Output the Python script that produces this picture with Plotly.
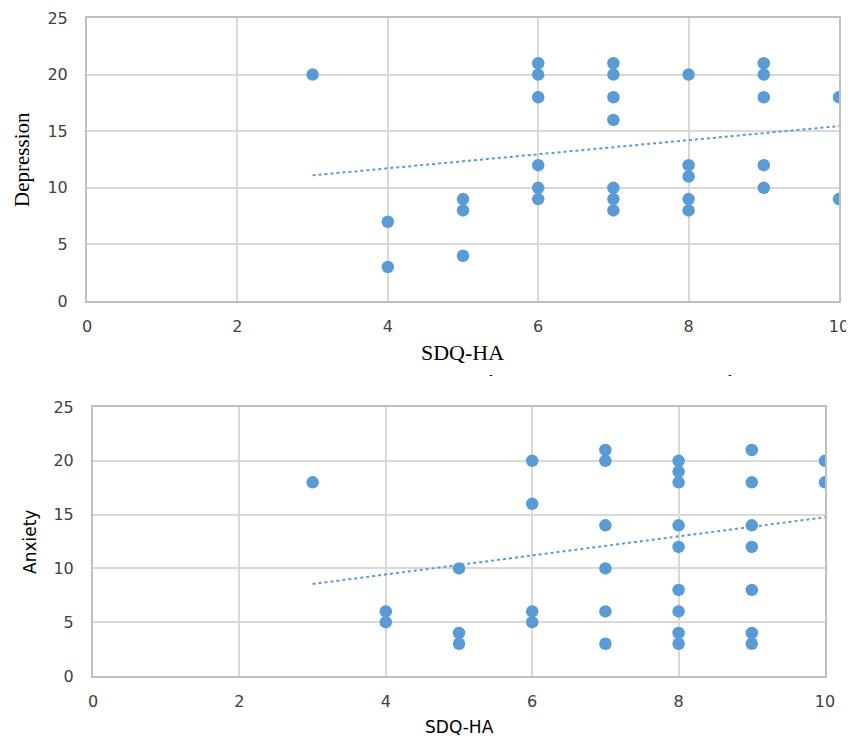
import plotly.graph_objects as go

# ---- data ----
dep_x = [3, 4, 4, 5, 5, 5, 6, 6, 6, 6, 6, 6, 7, 7, 7, 7, 7, 7, 7, 8, 8, 8, 8, 8, 9, 9, 9, 9, 9, 10, 10]
dep_y = [20, 7, 3, 9, 8, 4, 21, 20, 18, 12, 10, 9, 21, 20, 18, 16, 10, 9, 8, 20, 12, 11, 9, 8, 21, 20, 18, 12, 10, 18, 9]
dep_trend_x = [3, 10]
dep_trend_y = [11.1, 15.45]

anx_x = [3, 4, 4, 5, 5, 5, 6, 6, 6, 6, 7, 7, 7, 7, 7, 7,
         8, 8, 8, 8, 8, 8, 8, 8, 8, 9, 9, 9, 9, 9, 9, 9, 10, 10]
anx_y = [18, 6, 5, 10, 4, 3, 20, 16, 6, 5, 21, 20, 14, 10, 6, 3,
         20, 19, 18, 14, 12, 8, 6, 4, 3, 21, 18, 14, 12, 8, 4, 3, 20, 18]
anx_trend_x = [3, 10]
anx_trend_y = [8.55, 14.75]

x_ticks = [0, 2, 4, 6, 8, 10]
y_ticks = [0, 5, 10, 15, 20, 25]

MARK = "#5B9BD5"
GRID = "#D9D9D9"
TICKFONT = dict(family="DejaVu Sans", size=16, color="#404040")

fig = go.Figure()

fig.add_trace(go.Scatter(x=dep_x, y=dep_y, mode="markers", xaxis="x", yaxis="y",
                         marker=dict(color=MARK, size=12.5, line=dict(width=0)), showlegend=False))
fig.add_trace(go.Scatter(x=dep_trend_x, y=dep_trend_y, mode="lines", xaxis="x", yaxis="y",
                         line=dict(color=MARK, width=2, dash="dot"), showlegend=False))
fig.add_trace(go.Scatter(x=anx_x, y=anx_y, mode="markers", xaxis="x2", yaxis="y2",
                         marker=dict(color=MARK, size=12.5, line=dict(width=0)), showlegend=False))
fig.add_trace(go.Scatter(x=anx_trend_x, y=anx_trend_y, mode="lines", xaxis="x2", yaxis="y2",
                         line=dict(color=MARK, width=2, dash="dot"), showlegend=False))

W, H = 854, 742
OX, OY = 8, 8  # page body margin offset


def px(x):
    return (x - OX) / W


def py(y):
    return 1 - (y - OY) / H


def xdom(l, r):
    return [px(l), px(r)]


def ydom(t, b):
    return [py(b), py(t)]


common_x = dict(range=[0, 10], tickvals=x_ticks, showgrid=True, gridcolor=GRID, gridwidth=2,
                zeroline=False, showline=True, linecolor="#BFBFBF", linewidth=2, mirror=True,
                ticks="outside", ticklen=10, tickcolor="rgba(0,0,0,0)", tickfont=TICKFONT,
                automargin=False)
common_y = dict(range=[0, 25], tickvals=y_ticks, showgrid=True, gridcolor=GRID, gridwidth=2,
                zeroline=False, showline=True, linecolor="#BFBFBF", linewidth=2, mirror=True,
                ticks="outside", ticklen=14, tickcolor="rgba(0,0,0,0)", tickfont=TICKFONT,
                automargin=False)

fig.update_layout(
    width=W, height=H, autosize=False,
    margin=dict(l=0, r=0, t=0, b=0, pad=0, autoexpand=False),
    paper_bgcolor="white", plot_bgcolor="white",
    xaxis=dict(domain=xdom(87, 839), anchor="y", **common_x),
    yaxis=dict(domain=ydom(18, 301), anchor="x", **common_y),
    xaxis2=dict(domain=xdom(93, 825), anchor="y2", **common_x),
    yaxis2=dict(domain=ydom(407, 676), anchor="x2", **common_y),
)

annotations = [
    dict(text="SDQ-HA", x=px(462), y=py(353), xref="paper", yref="paper",
         showarrow=False, font=dict(family="Liberation Serif", size=22, color="#000000"),
         xanchor="center", yanchor="middle"),
    dict(text="Depression", x=px(22), y=py(160), xref="paper", yref="paper", textangle=-90,
         showarrow=False, font=dict(family="Liberation Serif", size=21, color="#000000"),
         xanchor="center", yanchor="middle"),
    dict(text="SDQ-HA", x=px(459), y=py(727), xref="paper", yref="paper",
         showarrow=False, font=dict(family="DejaVu Sans", size=17, color="#000000"),
         xanchor="center", yanchor="middle"),
    dict(text="Anxiety", x=px(30), y=py(542), xref="paper", yref="paper", textangle=-90,
         showarrow=False, font=dict(family="DejaVu Sans", size=17, color="#000000"),
         xanchor="center", yanchor="middle"),
    dict(text="-", x=px(491), y=py(374), xref="paper", yref="paper",
         showarrow=False, font=dict(family="DejaVu Sans", size=10, color="#000000"),
         xanchor="center", yanchor="middle"),
    dict(text="-", x=px(730), y=py(374), xref="paper", yref="paper",
         showarrow=False, font=dict(family="DejaVu Sans", size=10, color="#000000"),
         xanchor="center", yanchor="middle"),
]
fig.update_layout(annotations=annotations)

fig.write_html("out.html")
